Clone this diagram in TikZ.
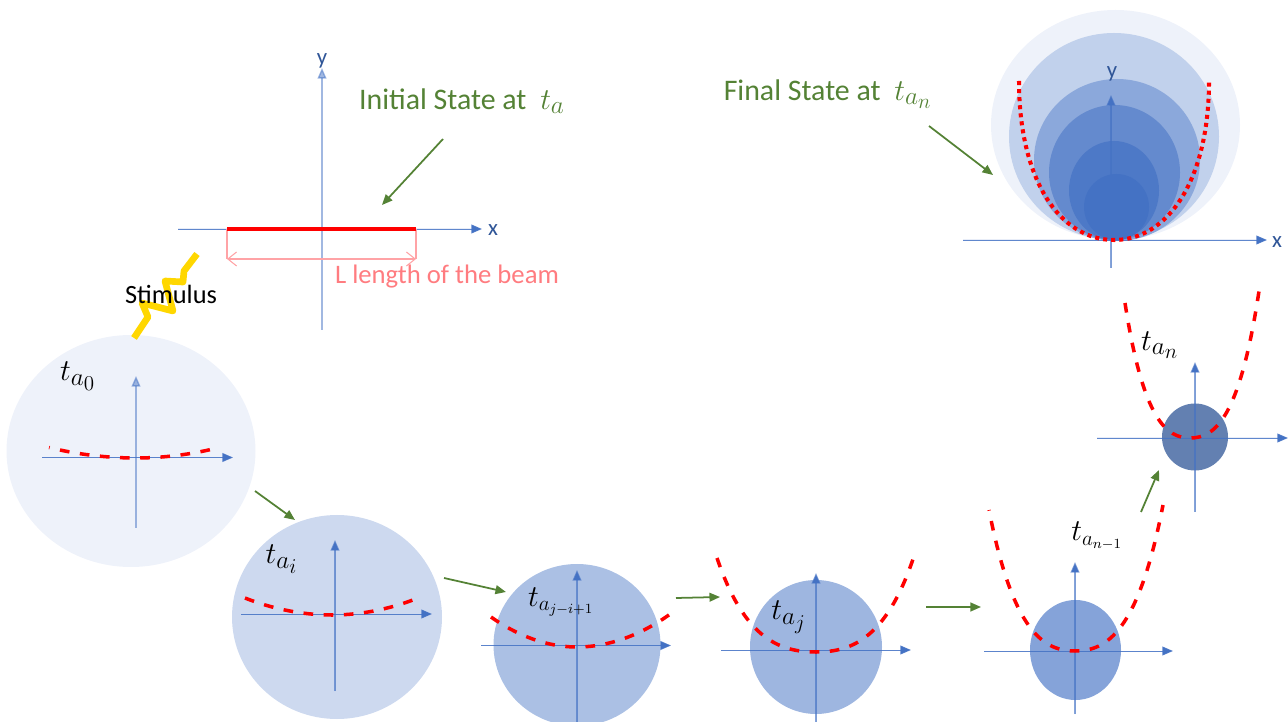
\documentclass[tikz,border=0pt]{standalone}
\usepackage{fontspec}
\setmainfont{Carlito}
\usepackage{amsmath}
\usetikzlibrary{arrows.meta, positioning}
\DeclareMathSizes{19}{18.5}{14}{11.5}
\definecolor{axisBlue}{HTML}{4472C4}
\definecolor{axisText}{HTML}{2F5597}
\definecolor{beamRed}{HTML}{FF0000}
\definecolor{beamPink}{HTML}{FF7C80}
\definecolor{noteGreen}{HTML}{548235}
\definecolor{sparkGold}{HTML}{FFD700}
\tikzset{
  axisline/.style={draw=axisBlue, draw opacity=0.85, fill=axisBlue, line width=0.55pt, -{Triangle[length=6pt,width=5pt]}},
  axissolid/.style={draw=axisBlue, draw opacity=0.65, fill=axisBlue, line width=0.8pt, -{Triangle[length=6pt,width=5pt]}},
  axispale/.style={draw=axisBlue, opacity=0.5, line width=0.8pt, -{Triangle[length=6pt,width=5pt]}},
  beamdash/.style={draw=beamRed, line width=2pt, dash pattern=on 5.5pt off 6pt},
  beamdots/.style={draw=beamRed, line width=2.3pt, dash pattern=on 2.3pt off 2.3pt},
  notearrow/.style={draw=noteGreen, line width=1pt, -{Triangle[length=6pt,width=5pt]}},
  stagelabel/.style={font=\fontsize{19}{22}\selectfont, text=black},
  stagewide/.style={font=\fontsize{17}{20}\selectfont, text=black},
  notelabel/.style={font=\fontsize{17}{20}\selectfont, text=noteGreen},
  axislabel/.style={font=\fontsize{13}{15}\selectfont, text=axisText},
}
\newcommand{\notemath}[1]{\hspace{4pt}{\fontsize{19}{22}\selectfont$#1$}}
% stage disc: name, cx, cy, rx, ry, colour
\newcommand{\stagedisc}[6]{%
  \fill[#6] (#2,#3) ellipse [x radius=#4, y radius=#5];
  \coordinate (#1) at (#2,#3);}
% axes: name, x of y axis, y of x axis, left, right, top, bottom, y axis style
\newcommand{\axescross}[8]{%
  \coordinate (#1W) at (#4,#3);
  \coordinate (#1E) at (#5,#3);
  \coordinate (#1N) at (#2,#6);
  \coordinate (#1S) at (#2,#7);
  \draw[axisline] (#1W) -- (#1E);
  \draw[#8] (#1S) -- (#1N);}
% bent beam: [options], name, left end, lowest point, right end
\newcommand{\beamcurve}[8][]{%
  \coordinate (#2L) at (#3,#4);
  \coordinate (#2B) at (#5,#6);
  \coordinate (#2R) at (#7,#8);
  \draw[beamdash, #1] (#2L)
    .. controls ({#3+0.28*(#5-#3)},{#4+0.87*(#6-#4)}) and ({#5-0.36*(#5-#3)},#6) .. (#2B)
    .. controls ({#5+0.36*(#7-#5)},#6) and ({#7-0.28*(#7-#5)},{#8+0.87*(#6-#8)}) .. (#2R);}
% slightly bent beam
\newcommand{\beamflat}[8][]{%
  \coordinate (#2L) at (#3,#4);
  \coordinate (#2B) at (#5,#6);
  \coordinate (#2R) at (#7,#8);
  \draw[beamdash, #1] (#2L) parabola bend (#2B) (#2R);}

\begin{document}
\begin{tikzpicture}[x=0.02cm, y=-0.02cm]
    \useasboundingbox (0,0) rectangle (1288,722);
    % ---- initial state ----
    \axescross{init}{322}{229}{178}{482}{68}{330}{axispale}
    \node[axislabel] (inity) at (322,61) {y};
    \node[axislabel] (initx) at (493,230) {x};
    \coordinate (beamL) at (227,229);
    \coordinate (beamR) at (416,229);
    \coordinate (dimL) at (227,259);
    \coordinate (dimR) at (416,259);
    \draw[draw=beamPink!70, line width=0.6pt] (beamL) -- (dimL);
    \draw[draw=beamPink!70, line width=0.6pt] (beamR) -- (dimR);
    \draw[draw=beamPink!70, line width=0.6pt, {Straight Barb[length=5pt,width=8pt]}-{Straight Barb[length=5pt,width=8pt]}] (dimL) -- (dimR);
    \draw[draw=beamRed, line width=2.4pt] (beamL) -- (beamR);
    \node[font=\fontsize{15.2}{18}\selectfont, text=beamPink] (lenlabel) at (447,277) {L length of the beam};
    \node[notelabel] (initlabel) at (462,101) {Initial State at \notemath{t_a}};
    \coordinate (initA) at (443,139);
    \coordinate (initB) at (382,205);
    \draw[notearrow] (initA) -- (initB);
    % ---- final state ----
    \stagedisc{f1}{1115.5}{125}{124.5}{115}{axisBlue!9}
    \stagedisc{f2}{1114}{136.5}{105}{103.5}{axisBlue!33}
    \stagedisc{f3}{1117}{160}{83}{81}{axisBlue!62}
    \stagedisc{f4}{1114.5}{172.5}{65.5}{67.5}{axisBlue!83}
    \stagedisc{f5}{1114}{190.5}{45}{49.5}{axisBlue!95}
    \stagedisc{f6}{1116.5}{207}{32.5}{33}{axisBlue}
    \axescross{fin}{1111}{240}{963}{1267}{95}{268}{axissolid}
    \node[axislabel] (finy) at (1112,74) {y};
    \node[axislabel] (finx) at (1277,242) {x};
    \coordinate (dotL) at (1019,81);
    \coordinate (dotB) at (1114,240);
    \coordinate (dotR) at (1209,81);
    \draw[beamdots] (dotL) .. controls (1019,180) and (1060,240) .. (dotB)
      .. controls (1168,240) and (1209,180) .. (dotR);
    \node[notelabel] (finlabel) at (828,94) {Final State at \notemath{t_{a_n}}};
    \coordinate (finA) at (929,126);
    \coordinate (finB) at (993,175);
    \draw[notearrow] (finA) -- (finB);
    % ---- stages ----
    \stagedisc{s0}{131}{451}{124.5}{116}{axisBlue!9}
    \stagedisc{s1}{337}{617}{105}{102}{axisBlue!27}
    \stagedisc{s2}{577}{645}{83.5}{81}{axisBlue!45}
    \stagedisc{s3}{816}{647}{66}{67}{axisBlue!52}
    \stagedisc{s4}{1075.5}{650}{45.5}{50}{axisBlue!65}
    \stagedisc{s5}{1195}{437}{33}{33.5}{axisText!75}
    \axescross{ax0}{136}{457.5}{42}{233}{376}{528}{axispale}
    \axescross{ax1}{335}{614}{241}{432}{540}{691}{axissolid}
    \axescross{ax2}{577}{645.5}{481}{671}{570}{722}{axissolid}
    \axescross{ax3}{816}{650}{721}{911}{573}{722}{axissolid}
    \axescross{ax4}{1075}{651}{984}{1173}{562}{714}{axissolid}
    \axescross{ax5}{1195}{438}{1097}{1288}{362}{512}{axissolid}
    \beamflat[dash phase=5.1pt]{c0}{49}{447.5}{136}{458}{217}{448}
    \beamflat{c1}{245}{598}{332}{615}{418}{598}
    \beamflat{c2}{491}{617}{577}{647}{677}{609}
    \beamcurve{c3}{717}{558}{816}{652}{916}{550}
    \beamcurve[dash phase=5.1pt]{c4}{989}{510}{1075}{651}{1163}{505}
    \beamcurve{c5}{1125}{303}{1190}{438}{1259}{291}
    \node[stagelabel] (t0) at (78,376) {$t_{a_0}$};
    \node[stagelabel] (t1) at (282,559) {$t_{a_i}$};
    \node[stagewide] (t2) at (561,602) {$t_{a_{j-i+1}}$};
    \node[stagelabel] (t3) at (789,617) {$t_{a_j}$};
    \node[stagewide] (t4) at (1097,536) {$t_{a_{n-1}}$};
    \node[stagelabel] (t5) at (1160,345) {$t_{a_n}$};
    % ---- step arrows ----
    \coordinate (g0a) at (255,491);  \coordinate (g0b) at (295,520);
    \coordinate (g1a) at (444,578);  \coordinate (g1b) at (506,592);
    \coordinate (g2a) at (676,598);  \coordinate (g2b) at (720,597);
    \coordinate (g3a) at (926,607);  \coordinate (g3b) at (981,607);
    \coordinate (g4a) at (1141,512); \coordinate (g4b) at (1159,470);
    \foreach \g in {g0,g1,g2,g3,g4}
      \draw[notearrow] (\g a) -- (\g b);
    % ---- stimulus ----
    \coordinate (sparkA) at (197,254);
    \coordinate (sparkB) at (134,338);
    \draw[draw=sparkGold, line width=3.8pt, line join=round] (sparkA) -- (184,271) -- (183,282)
      -- (165,281) -- (173,311) -- (142,303) -- (148,317) -- (sparkB);
    \node[font=\fontsize{15}{18}\selectfont, text=black] (stimulus) at (171,294) {Stimulus};
\end{tikzpicture}
\end{document}
